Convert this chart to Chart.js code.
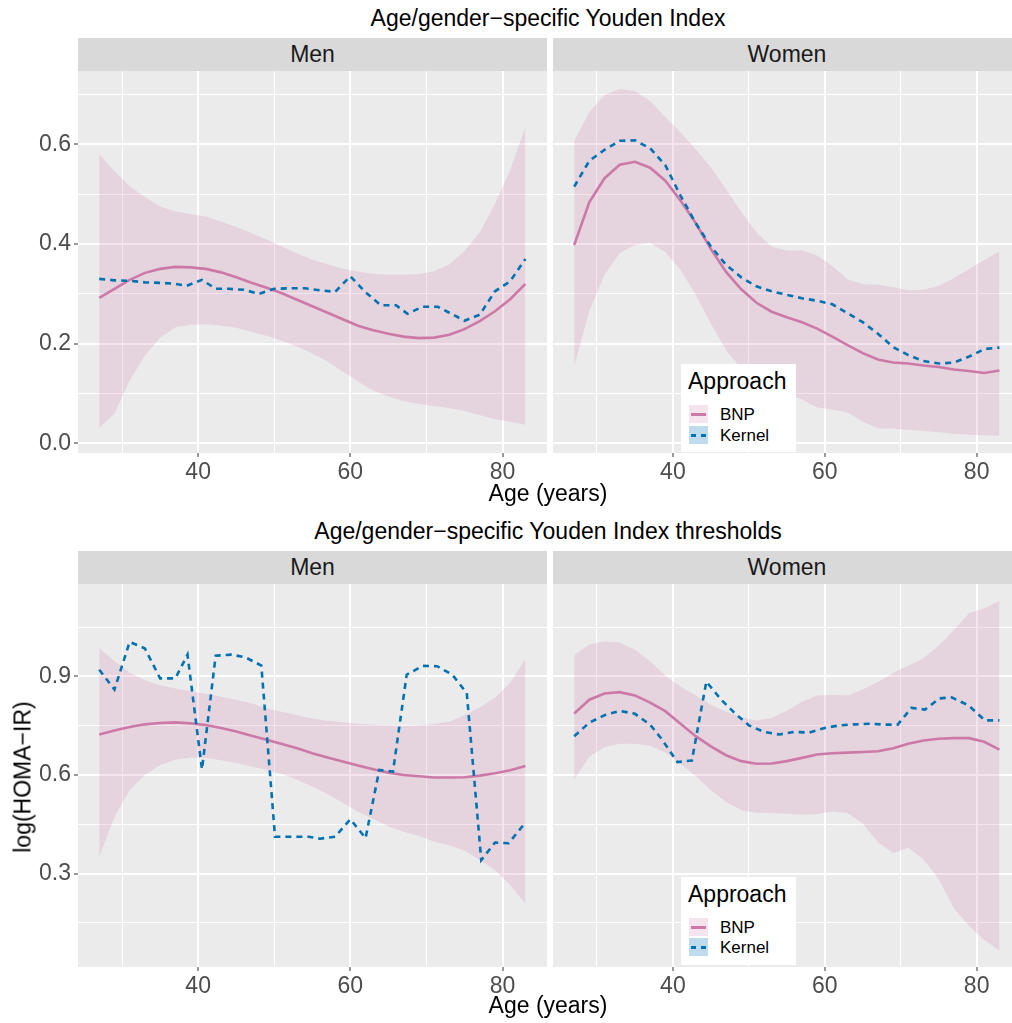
<!DOCTYPE html>
<html>
<head>
<meta charset="utf-8">
<script src="https://cdn.jsdelivr.net/npm/chart.js@4.4.0/dist/chart.umd.min.js"></script>
<style>
  body { margin: 0; width: 1012px; height: 1023px; overflow: hidden; position: relative; background: #fff;
         font-family: "Liberation Sans", Arial, sans-serif; }
  canvas { position: absolute; }
  .txt { position: absolute; white-space: nowrap; font-size: 23px; line-height: 23px; color: #000; transform: translateX(-50%); }
  .strip { position: absolute; height: 33px; background: #d9d9d9; color: #1a1a1a; font-size: 23px; line-height: 33px;
           text-align: center; white-space: nowrap; }
  .ytitle { position: absolute; white-space: nowrap; font-size: 23px; line-height: 23px; color: #000;
            transform: translate(-50%, -50%) rotate(-90deg); }
  .legend { position: absolute; width: 115px; height: 88px; background: #fff; }
  .legend .ltitle { position: absolute; left: 7px; top: 6px; font-size: 23px; line-height: 23px; color: #000; }
  .legend .key { position: absolute; left: 8px; width: 19px; height: 18px; }
  .legend .lab { position: absolute; left: 39px; font-size: 17px; line-height: 17px; color: #000; }
</style>
</head>
<body>

<div class="txt" style="left:548px;top:7px">Age/gender−specific Youden Index</div>
<div class="strip" style="left:78px;top:38px;width:469px">Men</div>
<div class="strip" style="left:553px;top:38px;width:468px">Women</div>
<canvas id="menYi" width="547" height="422" style="left:0;top:71px"></canvas>
<canvas id="womenYi" width="468" height="422" style="left:553px;top:71px"></canvas>
<div class="txt" style="left:548px;top:482px">Age (years)</div>

<div class="txt" style="left:548px;top:520px">Age/gender−specific Youden Index thresholds</div>
<div class="strip" style="left:78px;top:551px;width:469px">Men</div>
<div class="strip" style="left:553px;top:551px;width:468px">Women</div>
<canvas id="menTh" width="547" height="423" style="left:0;top:584px"></canvas>
<canvas id="womenTh" width="468" height="423" style="left:553px;top:584px"></canvas>
<div class="txt" style="left:548px;top:994px">Age (years)</div>
<div class="ytitle" style="left:23px;top:777px">log(HOMA−IR)</div>

<div class="legend" style="left:681px;top:364px">
  <div class="ltitle">Approach</div>
  <div class="key" style="top:41px;background:#f5e4ed"><div style="position:absolute;left:2px;right:2px;top:8px;height:2.5px;background:#CC79A7"></div></div>
  <div class="key" style="top:62px;background:#bfdcec"><div style="position:absolute;left:2px;right:2px;top:8px;height:2.5px;background:repeating-linear-gradient(90deg,#0072B2 0 5px,transparent 5px 10px)"></div></div>
  <div class="lab" style="top:42px">BNP</div>
  <div class="lab" style="top:63px">Kernel</div>
</div>
<div class="legend" style="left:681px;top:877px">
  <div class="ltitle">Approach</div>
  <div class="key" style="top:41px;background:#f5e4ed"><div style="position:absolute;left:2px;right:2px;top:8px;height:2.5px;background:#CC79A7"></div></div>
  <div class="key" style="top:61px;background:#bfdcec"><div style="position:absolute;left:2px;right:2px;top:8px;height:2.5px;background:repeating-linear-gradient(90deg,#0072B2 0 5px,transparent 5px 10px)"></div></div>
  <div class="lab" style="top:42px">BNP</div>
  <div class="lab" style="top:62px">Kernel</div>
</div>

<script>
// ages where the BNP curve and its band are read
const ages = [27, 29, 31, 33, 35, 37, 39, 41, 43, 45, 47, 49, 51, 53, 55, 57, 59, 61, 63, 65, 67, 69, 71, 73, 75, 77, 79, 81, 83]

// Youden index, men
const menYiBnp = [0.292, 0.310, 0.328, 0.342, 0.350, 0.354, 0.353, 0.350, 0.343, 0.333, 0.322, 0.312, 0.301, 0.288, 0.275, 0.262, 0.249, 0.236, 0.227, 0.220, 0.214, 0.211, 0.212, 0.218, 0.229, 0.245, 0.265, 0.289, 0.320]
const menYiUpper = [0.580, 0.546, 0.516, 0.494, 0.475, 0.465, 0.460, 0.455, 0.445, 0.434, 0.422, 0.409, 0.395, 0.381, 0.369, 0.359, 0.351, 0.344, 0.340, 0.338, 0.338, 0.339, 0.345, 0.359, 0.386, 0.423, 0.480, 0.548, 0.635]
const menYiLower = [0.031, 0.060, 0.126, 0.176, 0.212, 0.233, 0.238, 0.239, 0.236, 0.232, 0.224, 0.216, 0.206, 0.194, 0.180, 0.164, 0.144, 0.124, 0.106, 0.094, 0.085, 0.079, 0.075, 0.071, 0.065, 0.057, 0.048, 0.043, 0.037]
const menYiKernelAges = [27, 29, 31, 33, 35, 37, 38.5, 40.5, 42.3, 44, 46, 48, 50, 52, 54, 56, 58, 60, 62, 64, 66, 67.5, 69.5, 71.5, 73, 75, 77, 79, 81, 83]
const menYiKernel = [0.330, 0.327, 0.326, 0.323, 0.322, 0.320, 0.316, 0.328, 0.310, 0.310, 0.308, 0.300, 0.310, 0.311, 0.311, 0.307, 0.304, 0.335, 0.303, 0.277, 0.277, 0.260, 0.274, 0.274, 0.262, 0.246, 0.258, 0.305, 0.325, 0.370]

// Youden index, women
const womenYiBnp = [0.398, 0.484, 0.532, 0.559, 0.565, 0.553, 0.527, 0.487, 0.442, 0.390, 0.344, 0.309, 0.282, 0.264, 0.253, 0.243, 0.230, 0.214, 0.197, 0.181, 0.168, 0.162, 0.160, 0.156, 0.153, 0.148, 0.145, 0.141, 0.146]
const womenYiUpper = [0.606, 0.665, 0.699, 0.711, 0.707, 0.687, 0.655, 0.624, 0.590, 0.554, 0.510, 0.464, 0.423, 0.395, 0.387, 0.387, 0.377, 0.356, 0.329, 0.319, 0.318, 0.313, 0.307, 0.308, 0.316, 0.331, 0.350, 0.368, 0.385]
const womenYiLower = [0.155, 0.266, 0.338, 0.382, 0.398, 0.402, 0.384, 0.348, 0.298, 0.240, 0.187, 0.150, 0.128, 0.112, 0.100, 0.088, 0.072, 0.068, 0.062, 0.043, 0.030, 0.029, 0.027, 0.025, 0.022, 0.019, 0.017, 0.016, 0.015]
const womenYiKernelAges = ages
const womenYiKernel = [0.515, 0.567, 0.589, 0.607, 0.608, 0.592, 0.558, 0.497, 0.442, 0.395, 0.358, 0.333, 0.315, 0.305, 0.298, 0.291, 0.286, 0.279, 0.261, 0.243, 0.220, 0.193, 0.177, 0.165, 0.160, 0.162, 0.174, 0.189, 0.192]

// thresholds log(HOMA-IR), men
const menThBnp = [0.723, 0.735, 0.746, 0.754, 0.758, 0.760, 0.757, 0.752, 0.743, 0.732, 0.719, 0.707, 0.694, 0.681, 0.666, 0.653, 0.641, 0.629, 0.617, 0.607, 0.600, 0.596, 0.592, 0.592, 0.593, 0.598, 0.605, 0.614, 0.627]
const menThUpper = [0.986, 0.946, 0.912, 0.888, 0.873, 0.863, 0.855, 0.847, 0.838, 0.829, 0.818, 0.802, 0.792, 0.782, 0.772, 0.765, 0.760, 0.756, 0.753, 0.751, 0.750, 0.751, 0.755, 0.762, 0.782, 0.805, 0.835, 0.880, 0.953]
const menThLower = [0.351, 0.472, 0.554, 0.600, 0.630, 0.646, 0.653, 0.652, 0.645, 0.636, 0.626, 0.615, 0.603, 0.585, 0.565, 0.542, 0.515, 0.488, 0.466, 0.444, 0.427, 0.414, 0.397, 0.386, 0.369, 0.342, 0.310, 0.265, 0.208]
const menThKernelAges = [27, 29, 31, 33, 35, 37, 38.6, 40.5, 42.3, 44.4, 46.2, 48.3, 50.1, 52, 54.5, 56, 58, 60, 62, 63.8, 65.6, 67.4, 69.5, 71.4, 73.4, 75.3, 77.2, 79, 80.8, 83]
const menThKernel = [0.920, 0.860, 1.005, 0.985, 0.894, 0.894, 0.966, 0.617, 0.963, 0.966, 0.958, 0.933, 0.412, 0.412, 0.412, 0.406, 0.412, 0.465, 0.408, 0.615, 0.610, 0.905, 0.932, 0.931, 0.905, 0.849, 0.341, 0.394, 0.392, 0.455]

// thresholds log(HOMA-IR), women
const womenThBnp = [0.787, 0.829, 0.848, 0.852, 0.842, 0.820, 0.794, 0.756, 0.718, 0.687, 0.660, 0.642, 0.634, 0.635, 0.642, 0.652, 0.662, 0.666, 0.668, 0.670, 0.672, 0.681, 0.695, 0.705, 0.710, 0.712, 0.712, 0.701, 0.677]
const womenThUpper = [0.965, 0.997, 1.006, 1.003, 0.981, 0.946, 0.902, 0.869, 0.842, 0.813, 0.793, 0.776, 0.765, 0.773, 0.795, 0.823, 0.842, 0.844, 0.842, 0.860, 0.883, 0.910, 0.932, 0.955, 0.993, 1.040, 1.092, 1.107, 1.129]
const womenThLower = [0.585, 0.656, 0.685, 0.695, 0.695, 0.689, 0.668, 0.634, 0.596, 0.554, 0.518, 0.493, 0.485, 0.484, 0.482, 0.479, 0.481, 0.489, 0.484, 0.452, 0.395, 0.362, 0.379, 0.343, 0.283, 0.194, 0.140, 0.098, 0.065]
const womenThKernelAges = [27, 29, 31, 33, 35, 37, 38.5, 40.6, 42.5, 44.4, 46.4, 48.2, 50, 52, 54, 56, 58, 60, 62, 64, 66, 68, 69.6, 71.4, 73.2, 75.1, 76.7, 78.9, 81.1, 83]
const womenThKernel = [0.718, 0.759, 0.782, 0.795, 0.786, 0.753, 0.710, 0.639, 0.644, 0.884, 0.828, 0.787, 0.751, 0.731, 0.723, 0.731, 0.729, 0.743, 0.751, 0.754, 0.756, 0.753, 0.753, 0.804, 0.799, 0.833, 0.836, 0.812, 0.766, 0.766]

Chart.defaults.font.family = '"Liberation Sans", Arial, sans-serif'

const pink = '#CC79A7'
const blue = '#0072B2'

const pts = (xs, ys) => xs.map((x, i) => ({ x: x, y: ys[i] }))

const panelBg = {
    id: 'panelBg',
    beforeDraw(chart) {
        const { ctx, chartArea } = chart
        ctx.save()
        ctx.fillStyle = '#EBEBEB'
        ctx.fillRect(chartArea.left, chartArea.top, chartArea.right - chartArea.left, chartArea.bottom - chartArea.top)
        ctx.restore()
    }
}

// no label overhang padding, so the plot area fills the canvas edge to edge
const noPad = s => { s.paddingTop = 0; s.paddingBottom = 0; s.paddingLeft = 0; s.paddingRight = 0 }

function drawPanel(id, p) {
    const isMajor = (v, step) => Math.round(v / step) % 2 === 0
    new Chart(document.getElementById(id), {
        type: 'line',
        data: {
            datasets: [
                { data: pts(p.kerAges, p.kernel), borderColor: blue, borderWidth: 2.6, borderDash: [6, 5], pointRadius: 0, fill: false },
                { data: pts(ages, p.bnp), borderColor: pink, borderWidth: 2.6, pointRadius: 0, fill: false },
                { data: pts(ages, p.upper), borderColor: 'transparent', borderWidth: 0, pointRadius: 0, fill: 3, backgroundColor: 'rgba(204,121,167,0.2)' },
                { data: pts(ages, p.lower), borderColor: 'transparent', borderWidth: 0, pointRadius: 0, fill: false }
            ]
        },
        options: {
            responsive: false,
            animation: false,
            devicePixelRatio: 1,
            layout: { padding: 0, autoPadding: false },
            plugins: { legend: { display: false }, tooltip: { enabled: false } },
            scales: {
                x: {
                    type: 'linear', min: 24.21, max: 85.84,
                    afterFit: s => { s.height = p.bottomH; noPad(s) },
                    border: { display: false },
                    grid: {
                        color: '#fff',
                        lineWidth: c => isMajor(c.tick.value, 10) ? 2 : 1,
                        tickLength: 4,
                        tickWidth: 1,
                        tickColor: c => isMajor(c.tick.value, 10) ? '#333' : 'rgba(0,0,0,0)'
                    },
                    ticks: {
                        stepSize: 10, includeBounds: false, autoSkip: false, maxRotation: 0, padding: 2,
                        color: '#4D4D4D', font: { size: 23 },
                        callback: v => isMajor(v, 10) ? v : ''
                    }
                },
                y: {
                    min: p.yMin, max: p.yMax,
                    afterFit: s => { s.width = p.leftW; noPad(s) },
                    border: { display: false },
                    grid: {
                        color: '#fff',
                        lineWidth: c => isMajor(c.tick.value, p.yStep) ? 2 : 1,
                        drawTicks: p.showY,
                        tickLength: 4,
                        tickWidth: 1,
                        tickColor: c => isMajor(c.tick.value, p.yStep) ? '#333' : 'rgba(0,0,0,0)'
                    },
                    ticks: {
                        display: p.showY,
                        stepSize: p.yStep, includeBounds: false, autoSkip: false, padding: 3,
                        color: '#4D4D4D', font: { size: 23 },
                        callback: v => isMajor(v, p.yStep) ? v.toFixed(1) : ''
                    }
                }
            }
        },
        plugins: [panelBg]
    })
}

const yiScale = { yMin: -0.0195, yMax: 0.7471, yStep: 0.1, bottomH: 40 }
const thScale = { yMin: 0.0155, yMax: 1.1811, yStep: 0.15, bottomH: 40 }

drawPanel('menYi', Object.assign({}, yiScale, { leftW: 78, showY: true, bnp: menYiBnp, upper: menYiUpper, lower: menYiLower, kerAges: menYiKernelAges, kernel: menYiKernel }))
drawPanel('womenYi', Object.assign({}, yiScale, { leftW: 0, showY: false, bnp: womenYiBnp, upper: womenYiUpper, lower: womenYiLower, kerAges: womenYiKernelAges, kernel: womenYiKernel }))
drawPanel('menTh', Object.assign({}, thScale, { leftW: 78, showY: true, bnp: menThBnp, upper: menThUpper, lower: menThLower, kerAges: menThKernelAges, kernel: menThKernel }))
drawPanel('womenTh', Object.assign({}, thScale, { leftW: 0, showY: false, bnp: womenThBnp, upper: womenThUpper, lower: womenThLower, kerAges: womenThKernelAges, kernel: womenThKernel }))
</script>
</body>
</html>
